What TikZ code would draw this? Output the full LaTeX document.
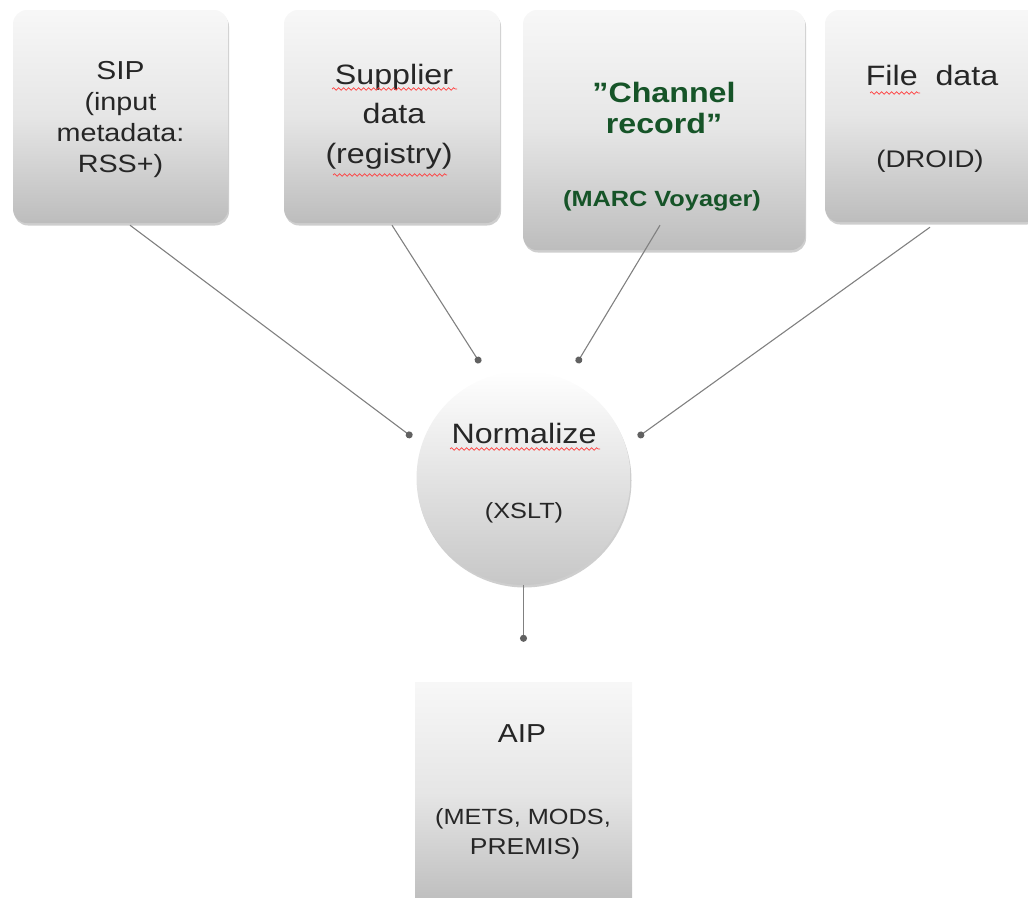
\documentclass[tikz,border=0pt]{standalone}
\usepackage{fontspec}
\setmainfont{Liberation Sans}
\usepackage{graphicx}
\usetikzlibrary{calc,shadows,arrows.meta,decorations.pathmorphing}
\definecolor{chgreen}{RGB}{22,84,40}
\definecolor{txtgray}{RGB}{38,38,38}
\newcommand{\sx}[1]{\scalebox{1.15}[1]{#1}}
\newcommand{\fs}[1]{\fontsize{#1}{#1}\selectfont}
\begin{document}
\begin{tikzpicture}[x=1pt,y=-1pt,
  boxshade/.style={top color=white!97!black, bottom color=white!74!black, middle color=white!90!black},
  shad/.style={drop shadow={shadow xshift=1pt, shadow yshift=-2.5pt, opacity=.35, fill=black!55}},
  box/.style={boxshade, shad, rounded corners=14pt, minimum width=215pt, minimum height=213pt, inner sep=0pt},
  circ/.style={circle, minimum size=214pt, inner sep=0pt, top color=white, bottom color=white!78!black, shad},
  sqbox/.style={boxshade, minimum width=217pt, minimum height=223pt, inner sep=0pt},
  tl/.style={anchor=base, inner sep=0pt, text=txtgray},
  gl/.style={anchor=base, inner sep=0pt, text=chgreen, font=\bfseries},
  conn/.style={draw=black!50, line width=1.1pt, -{Circle[length=7pt, color=black!62]}},
  spell/.style={draw=red!75, line width=0.7pt, decorate, decoration={snake, segment length=5pt, amplitude=1.3pt}}
]
\useasboundingbox (0,0) rectangle (1028,897);
\clip (0,0) rectangle (1028,897);

% boxes
\node[box] (sip) at (120.5,116.5) {};
\node[box, minimum width=216pt] (sup) at (392,116.5) {};
\node[box, minimum width=282pt, minimum height=240pt] (chan) at (664,130) {};
\node[box, minimum height=212pt] (file) at (932.5,116) {};
\node[circ] (norm) at (523.5,478) {};
\node[sqbox] (aip) at (523.5,793.5) {};

% texts
\node[tl, font=\fs{26}] (t1) at (120.5,79) {\sx{SIP}};
\node[tl, font=\fs{25}] (t2) at (120.5,110) {\sx{(input}};
\node[tl, font=\fs{25}] (t3) at (120.5,141) {\sx{metadata:}};
\node[tl, font=\fs{25}] (t4) at (120.5,172) {\sx{RSS+)}};

\node[tl, font=\fs{28}] (t5) at (394,84) {\sx{Supplier}};
\node[tl, font=\fs{28}] (t6) at (394,123) {\sx{data}};
\node[tl, font=\fs{28}] (t7) at (389,163) {\sx{(registry)}};

\node[gl, font=\fs{28}\bfseries] (t8) at (664,102) {\sx{”Channel}};
\node[gl, font=\fs{28}\bfseries] (t9) at (664,133) {\sx{record”}};
\node[gl, font=\fs{22}\bfseries] (t10) at (662,206) {\sx{(MARC Voyager)}};

\node[tl, font=\fs{28}] (t11) at (932,85) {\sx{File\ \ data}};
\node[tl, font=\fs{24}] (t12) at (930,167) {\sx{(DROID)}};

\node[tl, font=\fs{28}] (t13) at (524,443) {\sx{Normalize}};
\node[tl, font=\fs{22}] (t14) at (524,518) {\sx{(XSLT)}};

\node[tl, font=\fs{26}] (t15) at (522,742) {\sx{AIP}};
\node[tl, font=\fs{22}] (t16) at (523,824) {\sx{(METS, MODS,}};
\node[tl, font=\fs{23}] (t17) at (525,854) {\sx{PREMIS)}};

% spell-check underlines
\draw[spell] (332,89) -- (457,89);
\draw[spell] (333,175) -- (447,175);
\draw[spell] (870,93) -- (920,93);
\draw[spell] (450,449) -- (600,449);

% connectors
\draw[conn] ($(sip.south)+(9.5,2)$) -- ($(norm.center)+(-111.5,-41)$);
\draw[conn] ($(sup.south)+(0,2)$) -- ($(norm.center)+(-43.5,-115)$);
\draw[conn] ($(chan.south)+(-4,-25)$) -- ($(norm.center)+(53.5,-115)$);
\draw[conn] ($(file.south)+(-2.5,5)$) -- ($(norm.center)+(114.5,-41)$);
\draw[conn] (norm.south) -- ($(aip.north)+(0,-40)$);
\end{tikzpicture}
\end{document}
